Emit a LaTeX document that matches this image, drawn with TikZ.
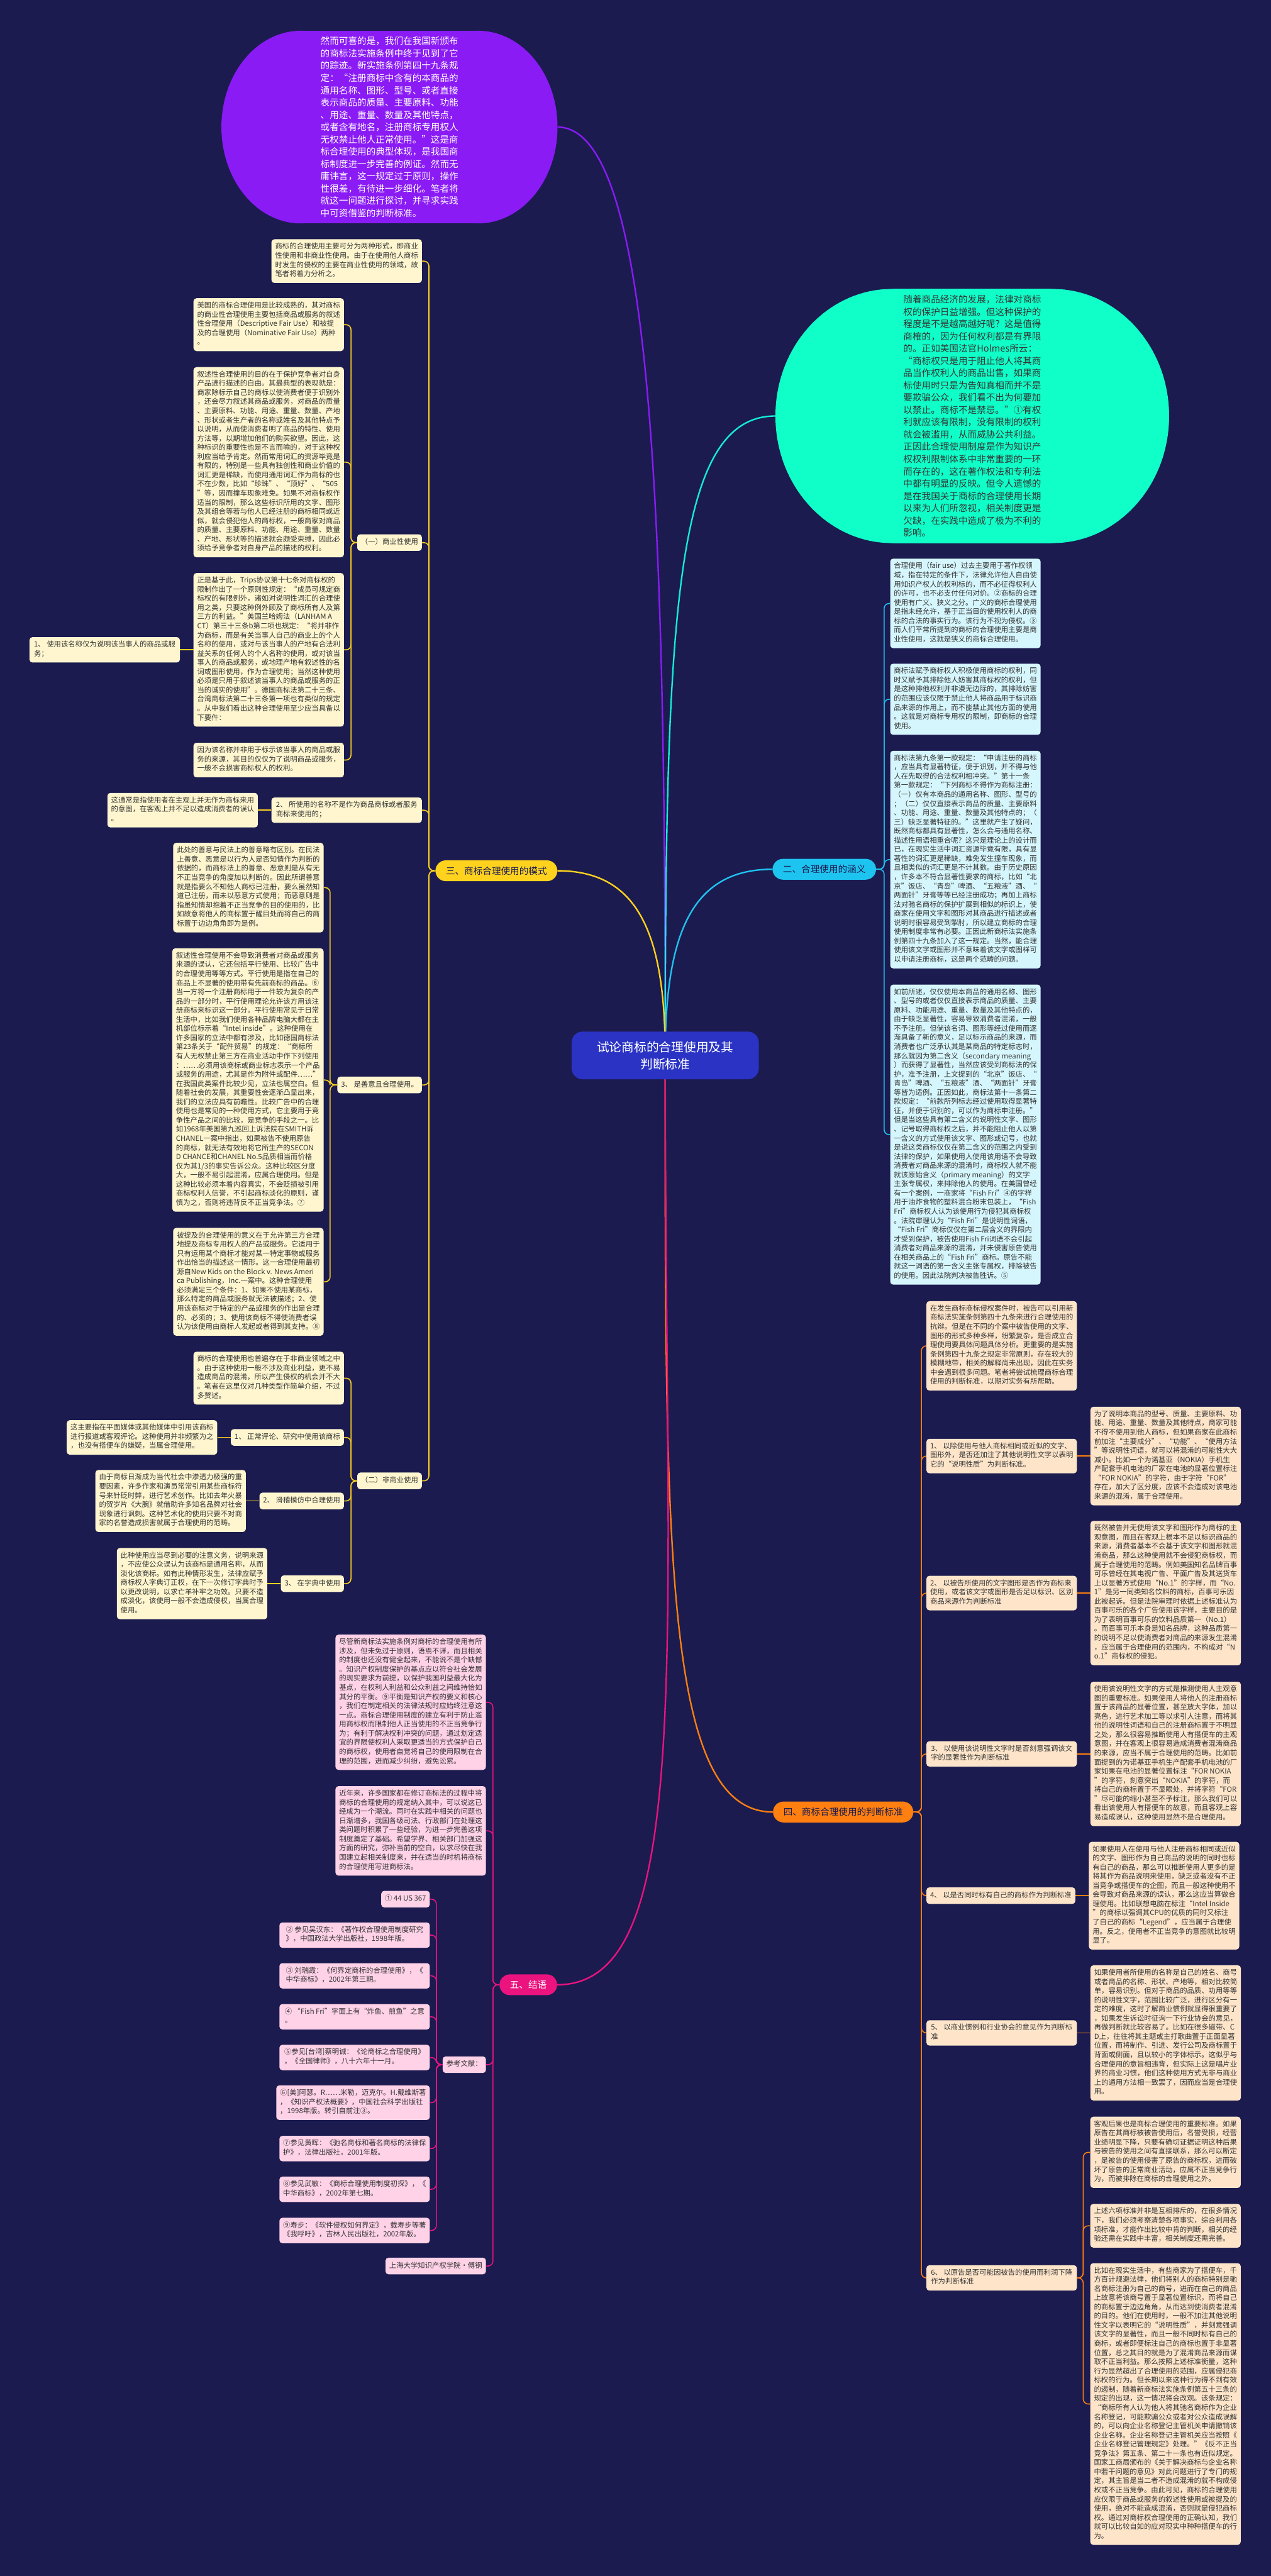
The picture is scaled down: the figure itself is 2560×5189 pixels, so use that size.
\documentclass[tikz,border=0pt]{standalone}
\usepackage{fontspec}
\setmainfont{Noto Sans CJK SC}
\usetikzlibrary{positioning, backgrounds}
\definecolor{navy}{HTML}{1B1B50}
\definecolor{ink}{HTML}{333333}
\definecolor{purp}{HTML}{8A1BF5}
\definecolor{aqua}{HTML}{10FFC8}
\definecolor{core}{HTML}{2A33C4}
\definecolor{cyanb}{HTML}{1EC4F0}
\definecolor{cyanl}{HTML}{D6F6FD}
\definecolor{yelb}{HTML}{FFD21E}
\definecolor{yell}{HTML}{FFF6CF}
\definecolor{orab}{HTML}{FF7F10}
\definecolor{oral}{HTML}{FEE5CA}
\definecolor{pinkb}{HTML}{EB137D}
\definecolor{pinkl}{HTML}{FFD2E7}
\newcommand{\boxfont}{\fontsize{14.4bp}{18.44bp}\selectfont}
\newcommand{\bigfont}{\fontsize{18.5bp}{24.75bp}\selectfont}

\begin{document}
\begin{tikzpicture}[x=1bp, y=-1bp,
    txt/.style={font=\boxfont, align=left, inner xsep=7.5bp, inner ysep=7.5bp,
      rounded corners=6bp, text=ink, execute at begin node=\strut, execute at end node=\strut},
    ybox/.style={txt, fill=yell},
    cbox/.style={txt, fill=cyanl},
    obox/.style={txt, fill=oral},
    pbox/.style={txt, fill=pinkl},
    wide/.style={minimum width=303bp},
    pill/.style={font=\fontsize{18.5bp}{22bp}\selectfont, inner xsep=21bp, inner ysep=0bp,
      minimum height=42bp, rounded corners=21bp, text=navy},
    blob/.style={font=\bigfont, align=left, inner sep=0bp},
    ylink/.style={draw=yelb, line width=2bp, rounded corners=10bp},
    clink/.style={draw=cyanb, line width=2bp, rounded corners=10bp},
    olink/.style={draw=orab, line width=2bp, rounded corners=10bp},
    plink/.style={draw=pinkb, line width=2bp, rounded corners=10bp},
    trunk/.style={line width=3bp}]
  \useasboundingbox (0,0) rectangle (2560,5189);

  % the two floating topics
  \fill[purp] (606,256) ellipse [x radius=160, y radius=194];
  \fill[purp] (963,256) ellipse [x radius=160, y radius=194];
  \fill[purp] (606,62) rectangle (963,450);
  \node[blob, text=white, minimum width=677bp, minimum height=388bp] (P) at (784.5,256) {%
    然而可喜的是，我们在我国新颁布\\的商标法实施条例中终于见到了它\\的踪迹。新实施条例第四十九条规\\定：“注册商标中含有的本商品的\\通用名称、图形、型号、或者直接\\表示商品的质量、主要原料、功能\\、用途、重量、数量及其他特点，\\或者含有地名，注册商标专用权人\\无权禁止他人正常使用。”这是商\\标合理使用的典型体现，是我国商\\标制度进一步完善的例证。然而无\\庸讳言，这一规定过于原则，操作\\性很差，有待进一步细化。笔者将\\就这一问题进行探讨，并寻求实践\\中可资借鉴的判断标准。};
  \fill[aqua] (1797,838) ellipse [x radius=235, y radius=256];
  \fill[aqua] (2120,838) ellipse [x radius=235, y radius=256];
  \fill[aqua] (1797,582) rectangle (2120,1094);
  \node[blob, text=ink, minimum width=793bp, minimum height=512bp] (T) at (1958.5,838) {%
    随着商品经济的发展，法律对商标\\权的保护日益增强。但这种保护的\\程度是不是越高越好呢？这是值得\\商榷的，因为任何权利都是有界限\\的。正如美国法官Holmes所云：\\“商标权只是用于阻止他人将其商\\品当作权利人的商品出售，如果商\\标使用时只是为告知真相而并不是\\要欺骗公众，我们看不出为何要加\\以禁止。商标不是禁忌。”①有权\\利就应该有限制，没有限制的权利\\就会被滥用，从而威胁公共利益。\\正因此合理使用制度是作为知识产\\权权利限制体系中非常重要的一环\\而存在的，这在著作权法和专利法\\中都有明显的反映。但令人遗憾的\\是在我国关于商标的合理使用长期\\以来为人们所忽视，相关制度更是\\欠缺，在实践中造成了极为不利的\\影响。};

  \node[fill=core, text=white, font=\fontsize{25bp}{34bp}\selectfont, align=center,
    minimum width=377bp, minimum height=96bp, rounded corners=22bp] (C) at (1340,2126)
    {试论商标的合理使用及其\\判断标准};

  % 二
  \node[pill, fill=cyanb, anchor=west] (B2) at (1556,1751) {二、合理使用的涵义};
  \node[cbox, wide, anchor=west] (D1) at (1793,1215.5) {合理使用（fair use）过去主要用于著作权领\\域，指在特定的条件下，法律允许他人自由使\\用知识产权人的权利标的，而不必征得权利人\\的许可，也不必支付任何对价。②商标的合理\\使用有广义、狭义之分。广义的商标合理使用\\是指未经允许，基于正当目的使用权利人的商\\标的合法的事实行为。该行为不视为侵权。③\\而人们平常所提到的商标的合理使用主要是商\\业性使用，这就是狭义的商标合理使用。};
  \node[cbox, wide, anchor=west] (D2) at (1793,1408.5) {商标法赋予商标权人积极使用商标的权利，同\\时又赋予其排除他人妨害其商标权的权利，但\\是这种排他权利并非漫无边际的，其排除妨害\\的范围应该仅限于禁止他人将商品用于标识商\\品来源的作用上，而不能禁止其他方面的使用\\。这就是对商标专用权的限制，即商标的合理\\使用。};
  \node[cbox, wide, anchor=west] (D3) at (1793,1731.5) {商标法第九条第一款规定：“申请注册的商标\\，应当具有显著特征，便于识别，并不得与他\\人在先取得的合法权利相冲突。”第十一条\\第一款规定：“下列商标不得作为商标注册：\\（一）仅有本商品的通用名称、图形、型号的\\；（二）仅仅直接表示商品的质量、主要原料\\、功能、用途、重量、数量及其他特点的；（\\三）缺乏显著特征的。”这里就产生了疑问，\\既然商标都具有显著性，怎么会与通用名称、\\描述性用语相重合呢？这只是理论上的设计而\\已，在现实生活中词汇资源毕竟有限，具有显\\著性的词汇更是稀缺，难免发生撞车现象，而\\且相类似的词汇更是不计其数。由于历史原因\\，许多本不符合显著性要求的商标，比如“北\\京”饭店、“青岛”啤酒、“五粮液”酒、“\\两面针”牙膏等等已经注册成功；再加上商标\\法对驰名商标的保护扩展到相似的标识上，使\\商家在使用文字和图形对其商品进行描述或者\\说明时很容易受到掣肘，所以建立商标的合理\\使用制度非常有必要。正因此新商标法实施条\\例第四十九条加入了这一规定。当然，能合理\\使用该文字或图形并不意味着该文字或图样可\\以申请注册商标，这是两个范畴的问题。};
  \node[cbox, wide, anchor=west] (D4) at (1793,2285.5) {如前所述，仅仅使用本商品的通用名称、图形\\、型号的或者仅仅直接表示商品的质量、主要\\原料、功能用途、重量、数量及其他特点的，\\由于缺乏显著性，容易导致消费者混淆，一般\\不予注册。但倘该名词、图形等经过使用而逐\\渐具备了新的意义，足以标示商品的来源，而\\消费者也广泛承认其是某商品的特定标志时，\\那么就因为第二含义（secondary meaning\\）而获得了显著性，当然应该受到商标法的保\\护，准予注册，上文提到的“北京”饭店、“\\青岛”啤酒、“五粮液”酒、“两面针”牙膏\\等皆为适例。正因如此，商标法第十一条第二\\款规定：“前款所列标志经过使用取得显著特\\征，并便于识别的，可以作为商标申注册。”\\但是当这些具有第二含义的说明性文字、图形\\、记号取得商标权之后，并不能阻止他人以第\\一含义的方式使用该文字、图形或记号，也就\\是说这类商标仅仅在第二含义的范围之内受到\\法律的保护，如果使用人使用该用语不会导致\\消费者对商品来源的混淆时，商标权人就不能\\就该原始含义（primary meaning）的文字\\主张专属权，来排除他人的使用。在美国曾经\\有一个案例，一商家将“Fish Fri”④的字样\\用于油炸食物的塑料混合粉末包装上，“Fish\\ Fri”商标权人认为该使用行为侵犯其商标权\\。法院审理认为“Fish Fri”是说明性词语，\\“Fish Fri”商标仅仅在第二层含义的界限内\\才受到保护，被告使用Fish Fri词语不会引起\\消费者对商品来源的混淆，并未侵害原告使用\\在相关商品上的“Fish Fri”商标。原告不能\\就这一词语的第一含义主张专属权，排除被告\\的使用。因此法院判决被告胜诉。⑤};
  \coordinate (B2j) at (1781,1751);
  \foreach \c in {D1,D2,D3,D4} \draw[clink] (B2.east) -- (B2j) |- (\c.west);

  % 三
  \node[pill, fill=yelb, anchor=west] (B3) at (877,1754) {三、商标合理使用的模式};
  \node[ybox, wide, anchor=east] (Y1) at (850,526) {商标的合理使用主要可分为两种形式，即商业\\性使用和非商业性使用。由于在使用他人商标\\时发生的侵权的主要在商业性使用的领域，故\\笔者将着力分析之。};
  \node[ybox, anchor=east] (L1) at (850,1093) {（一）商业性使用};
  \node[ybox, wide, anchor=east] (L2) at (850,1632) {2、 所使用的名称不是作为商品商标或者服务\\商标来使用的；};
  \node[ybox, anchor=east] (L3) at (850,2185.5) {3、 是善意且合理使用。};
  \node[ybox, anchor=east] (L4) at (850,2983) {（二）非商业使用};
  \coordinate (B3j) at (864,1754);
  \foreach \c in {Y1,L1,L2,L3,L4} \draw[ylink] (B3.west) -- (B3j) |- (\c.east);

  \node[ybox, wide, anchor=east] (A1) at (693,654) {美国的商标合理使用是比较成熟的，其对商标\\的商业性合理使用主要包括商品或服务的叙述\\性合理使用（Descriptive Fair Use）和被提\\及的合理使用（Nominative Fair Use）两种\\。};
  \node[ybox, wide, anchor=east] (A2) at (693,931) {叙述性合理使用的目的在于保护竞争者对自身\\产品进行描述的自由。其最典型的表现就是：\\商家除标示自己的商标以使消费者便于识别外\\，还会尽力叙述其商品或服务，对商品的质量\\、主要原料、功能、用途、重量、数量、产地\\、形状或者生产者的名称或姓名及其他特点予\\以说明，从而使消费者明了商品的特性、使用\\方法等，以期增加他们的购买欲望。因此，这\\种标识的重要性也是不言而喻的，对于这种权\\利应当给予肯定。然而常用词汇的资源毕竟是\\有限的，特别是一些具有独创性和商业价值的\\词汇更是稀缺，而使用通用词汇作为商标的也\\不在少数，比如“珍珠”、“顶好”、“505\\”等，因而撞车现象难免。如果不对商标权作\\适当的限制，那么这些标识所用的文字、图形\\及其组合等若与他人已经注册的商标相同或近\\似，就会侵犯他人的商标权，一般商家对商品\\的质量、主要原料、功能、用途、重量、数量\\、产地、形状等的描述就会颇受束缚，因此必\\须给予竞争者对自身产品的描述的权利。};
  \node[ybox, wide, anchor=east] (A3) at (693,1309) {正是基于此，Trips协议第十七条对商标权的\\限制作出了一个原则性规定：“成员可规定商\\标权的有限例外，诸如对说明性词汇的合理使\\用之类，只要这种例外顾及了商标所有人及第\\三方的利益。”美国兰哈姆法（LANHAM A\\CT）第三十三条b第二项也规定：“将并非作\\为商标，而是有关当事人自己的商业上的个人\\名称的使用，或对与该当事人的产地有合法利\\益关系的任何人的个人名称的使用，或对该当\\事人的商品或服务，或地理产地有叙述性的名\\词或图形使用，作为合理使用；当然这种使用\\必须是只用于叙述该当事人的商品或服务的正\\当的诚实的使用”。德国商标法第二十三条、\\台湾商标法第二十三条第一项也有类似的规定\\。从中我们看出这种合理使用至少应当具备以\\下要件：};
  \node[ybox, wide, anchor=east] (A4) at (693,1531) {因为该名称并非用于标示该当事人的商品或服\\务的来源，其目的仅仅为了说明商品或服务，\\一般不会损害商标权人的权利。};
  \coordinate (L1j) at (707,1093);
  \foreach \c in {A1,A2,A3,A4} \draw[ylink] (L1.west) -- (L1j) |- (\c.east);
  \node[ybox, wide, left=27bp of A3] (A3c) {1、 使用该名称仅为说明该当事人的商品或服\\务；};
  \draw[ylink] (A3.west) -- (A3c.east);
  \node[ybox, wide, left=27bp of L2] (L2c) {这通常是指使用者在主观上并无作为商标来用\\的意图，在客观上并不足以造成消费者的误认\\。};
  \draw[ylink] (L2.west) -- (L2c.east);

  \node[ybox, wide, anchor=east] (S1) at (652,1788) {此处的善意与民法上的善意略有区别。在民法\\上善意、恶意是以行为人是否知情作为判断的\\依据的，而商标法上的善意、恶意则是从有无\\不正当竞争的角度加以判断的。因此所谓善意\\就是指要么不知他人商标已注册，要么虽然知\\道已注册，而未以恶意方式使用；而恶意则是\\指虽知情却抱着不正当竞争的目的使用的，比\\如故意将他人的商标置于醒目处而将自己的商\\标置于边边角角即为是例。};
  \node[ybox, wide, anchor=east] (S2) at (652,2175.5) {叙述性合理使用不会导致消费者对商品或服务\\来源的误认，它还包括平行使用、比较广告中\\的合理使用等等方式。平行使用是指在自己的\\商品上不显著的使用带有先前商标的商品。⑥\\当一方将一个注册商标用于一件较为复杂的产\\品的一部分时，平行使用理论允许该方用该注\\册商标来标识这一部分。平行使用常见于日常\\生活中，比如我们使用各种品牌电脑大都在主\\机部位标示着“Intel inside”。这种使用在\\许多国家的立法中都有涉及，比如德国商标法\\第23条关于“配件贸易”的规定：“商标所\\有人无权禁止第三方在商业活动中作下列使用\\：……必须用该商标或商业标志表示一个产品\\或服务的用途，尤其是作为附件或配件……”\\在我国此类案件比较少见，立法也属空白。但\\随着社会的发展，其重要性会逐渐凸显出来，\\我们的立法应具有前瞻性。比较广告中的合理\\使用也是常见的一种使用方式，它主要用于竞\\争性产品之间的比较，是竞争的手段之一。比\\如1968年美国第九巡回上诉法院在SMITH诉\\CHANEL一案中指出，如果被告不使用原告\\的商标，就无法有效地将它所生产的SECON\\D CHANCE和CHANEL No.5品质相当而价格\\仅为其1/3的事实告诉公众。这种比较区分度\\大，一般不易引起混淆，应属合理使用。但是\\这种比较必须本着内容真实，不会贬损被引用\\商标权利人信誉，不引起商标淡化的原则，谨\\慎为之，否则将违背反不正当竞争法。⑦};
  \node[ybox, wide, anchor=east] (S3) at (652,2582) {被提及的合理使用的意义在于允许第三方合理\\地提及商标专用权人的产品或服务。它适用于\\只有运用某个商标才能对某一特定事物或服务\\作出恰当的描述这一情形。这一合理使用最初\\源自New Kids on the Block v. News Ameri\\ca Publishing，Inc.一案中。这种合理使用\\必须满足三个条件：1、如果不使用某商标，\\那么特定的商品或服务就无法被描述；2、使\\用该商标对于特定的产品或服务的作出是合理\\的、必须的；3、使用该商标不得使消费者误\\认为该使用由商标人发起或者得到其支持。⑧};
  \coordinate (L3j) at (665,2185.5);
  \foreach \c in {S1,S2,S3} \draw[ylink] (L3.west) -- (L3j) |- (\c.east);

  \node[ybox, wide, anchor=east] (U0) at (693,2776) {商标的合理使用也普遍存在于非商业领域之中\\。由于这种使用一般不涉及商业利益，更不易\\造成商品的混淆，所以产生侵权的机会并不大\\。笔者在这里仅对几种类型作简单介绍，不过\\多赘述。};
  \node[ybox, anchor=east] (N1) at (693,2895.5) {1、 正常评论、研究中使用该商标};
  \node[ybox, anchor=east] (N2) at (693,3023.5) {2、 滑稽模仿中合理使用};
  \node[ybox, anchor=east] (N3) at (693,3190) {3、 在字典中使用};
  \coordinate (L4j) at (707,2983);
  \foreach \c in {U0,N1,N2,N3} \draw[ylink] (L4.west) -- (L4j) |- (\c.east);
  \node[ybox, wide, left=27bp of N1] (N1c) {这主要指在平面媒体或其他媒体中引用该商标\\进行报道或客观评论。这种使用并非频繁为之\\，也没有搭便车的嫌疑，当属合理使用。};
  \node[ybox, wide, left=27bp of N2] (N2c) {由于商标日渐成为当代社会中渗透力极强的重\\要因素，许多作家和演员常常引用某些商标符\\号来针砭时弊，进行艺术创作。比如去年火暴\\的贺岁片《大腕》就借助许多知名品牌对社会\\现象进行讽刺。这种艺术化的使用只要不对商\\家的名誉造成损害就属于合理使用的范畴。};
  \node[ybox, wide, left=27bp of N3] (N3c) {此种使用应当尽到必要的注意义务，说明来源\\，不应使公众误认为该商标是通用名称，从而\\淡化该商标。如有此种情形发生，法律应赋予\\商标权人字典订正权，在下一次修订字典时予\\以更改说明，以求亡羊补牢之功效。只要不造\\成淡化，该使用一般不会造成侵权，当属合理\\使用。};
  \foreach \c in {N1,N2,N3} \draw[ylink] (\c.west) -- (\c c.east);

  % 四
  \node[pill, fill=orab, anchor=west] (B4) at (1557,3650) {四、商标合理使用的判断标准};
  \node[obox, wide, anchor=west] (R0) at (1866,2711) {在发生商标商标侵权案件时，被告可以引用新\\商标法实施条例第四十九条来进行合理使用的\\抗辩。但是在不同的个案中被告使用的文字、\\图形的形式多种多样，纷繁复杂，是否成立合\\理使用要具体问题具体分析。更重要的是实施\\条例第四十九条之规定非常原则，存在较大的\\模糊地带，相关的解释尚未出现，因此在实务\\中会遇到很多问题。笔者将尝试梳理商标合理\\使用的判断标准，以期对实务有所帮助。};
  \node[obox, wide, anchor=west] (R1) at (1866,2933) {1、 以除使用与他人商标相同或近似的文字、\\图形外，是否还加注了其他说明性文字以表明\\它的“说明性质”为判断标准。};
  \node[obox, wide, anchor=west] (R2) at (1866,3209) {2、 以被告所使用的文字图形是否作为商标来\\使用，或者该文字或图形是否足以标识、区别\\商品来源作为判断标准};
  \node[obox, wide, anchor=west] (R3) at (1866,3533) {3、 以使用该说明性文字时是否刻意强调该文\\字的显著性作为判断标准};
  \node[obox, anchor=west] (R4) at (1866,3818.5) {4、 以是否同时标有自己的商标作为判断标准};
  \node[obox, wide, anchor=west] (R5) at (1866,4095) {5、 以商业惯例和行业协会的意见作为判断标\\准};
  \node[obox, wide, anchor=west] (R6) at (1866,4588.5) {6、 以原告是否可能因被告的使用而利润下降\\作为判断标准};
  \coordinate (B4j) at (1856,3650);
  \foreach \c in {R0,R1,R2,R3,R4,R5,R6} \draw[olink] (B4.east) -- (B4j) |- (\c.west);
  \node[obox, wide, right=27bp of R1] (R1c) {为了说明本商品的型号、质量、主要原料、功\\能、用途、重量、数量及其他特点，商家可能\\不得不使用到他人商标，但如果商家在此商标\\前加注“主要成分”、“功能”、“使用方法\\”等说明性词语，就可以将混淆的可能性大大\\减小。比如一个为诺基亚（NOKIA）手机生\\产配套手机电池的厂家在电池的显著位置标注\\“FOR NOKIA”的字符，由于字符“FOR”\\存在，加大了区分度，应该不会造成对该电池\\来源的混淆，属于合理使用。};
  \node[obox, wide, right=27bp of R2] (R2c) {既然被告并无使用该文字和图形作为商标的主\\观意图，而且在客观上根本不足以标识商品的\\来源，消费者基本不会基于该文字和图形就混\\淆商品，那么这种使用就不会侵犯商标权，而\\属于合理使用的范畴。例如美国知名品牌百事\\可乐曾经在其电视广告、平面广告及其送货车\\上以显著方式使用“No.1”的字样，而“No.\\1”是另一同类知名饮料的商标，百事可乐因\\此被起诉。但是法院审理时依据上述标准认为\\百事可乐的各个广告使用该字样，主要目的是\\为了表明百事可乐的饮料品质第一（No.1）\\。而百事可乐本身是知名品牌，这种品质第一\\的说明不足以使消费者对商品的来源发生混淆\\，应当属于合理使用的范围内，不构成对“N\\o.1”商标权的侵犯。};
  \node[obox, wide, right=27bp of R3] (R3c) {使用该说明性文字的方式是推测使用人主观意\\图的重要标准。如果使用人将他人的注册商标\\置于该商品的显著位置，甚至放大字体，加以\\亮色，进行艺术加工等以求引人注意，而将其\\他的说明性词语和自己的注册商标置于不明显\\之处，那么很容易推断使用人有搭便车的主观\\意图，并在客观上很容易造成消费者混淆商品\\的来源，应当不属于合理使用的范畴。比如前\\面提到的为诺基亚手机生产配套手机电池的厂\\家如果在电池的显著位置标注“FOR NOKIA\\”的字符，刻意突出“NOKIA”的字符，而\\将自己的商标置于不显眼处，并将字符“FOR\\”尽可能的缩小甚至不予标注，那么我们可以\\看出该使用人有搭便车的故意，而且客观上容\\易造成误认，这种使用显然不是合理使用。};
  \node[obox, wide, right=27bp of R4] (R4c) {如果使用人在使用与他人注册商标相同或近似\\的文字、图形作为自己商品的说明的同时也标\\有自己的商品，那么可以推断使用人更多的是\\将其作为商品说明来使用，缺乏或者没有不正\\当竞争或搭便车的企图，而且一般这种使用不\\会导致对商品来源的误认，那么这应当算做合\\理使用。比如联想电脑在标注“Intel Inside\\”的商标以强调其CPU的优质的同时又标注\\了自己的商标“Legend”，应当属于合理使\\用。反之，使用者不正当竞争的意图就比较明\\显了。};
  \node[obox, wide, right=27bp of R5] (R5c) {如果使用者所使用的名称是自己的姓名、商号\\或者商品的名称、形状、产地等，相对比较简\\单，容易识别。但对于商品的品质、功用等等\\的说明性文字，范围比较广泛，进行区分有一\\定的难度，这时了解商业惯例就显得很重要了\\，如果发生诉讼时征询一下行业协会的意见，\\再做判断就比较容易了。比如在很多磁带、C\\D上，往往将其主题或主打歌曲置于正面显著\\位置，而将制作、引进、发行公司及商标置于\\背面或侧面，且以较小的字体标示。这似乎与\\合理使用的意旨相违背，但实际上这是唱片业\\界的商业习惯，他们这种使用方式无非与商业\\上的通用方法相一致罢了，因而应当是合理使\\用。};
  \foreach \c in {R1,R2,R3,R4,R5} \draw[olink] (\c.east) -- (\c c.west);
  \node[obox, wide, anchor=west] (G1) at (2196,4335.5) {客观后果也是商标合理使用的重要标准。如果\\原告在其商标被被告使用后，名誉受损，经营\\业绩明显下降，只要有确切证据证明这种后果\\与被告的使用之间有直接联系，那么可以断定\\，是被告的使用侵害了原告的商标权，进而破\\坏了原告的正常商业活动，应属不正当竞争行\\为，而被排除在商标的合理使用之外。};
  \node[obox, wide, anchor=west] (G2) at (2196,4483.5) {上述六项标准并非是互相排斥的，在很多情况\\下，我们必须考察清楚各项事实，综合利用各\\项标准，才能作出比较中肯的判断，相关的经\\验还需在实践中丰富，相关制度还需完善。};
  \node[obox, wide, anchor=west] (G3) at (2196,4842.5) {比如在现实生活中，有些商家为了搭便车，千\\方百计规避法律，他们将别人的商标特别是驰\\名商标注册为自己的商号，进而在自己的商品\\上故意将该商号置于显著位置标识，而将自己\\的商标置于边边角角，从而达到使消费者混淆\\的目的。他们在使用时，一般不加注其他说明\\性文字以表明它的“说明性质”，并刻意强调\\该文字的显著性，而且一般不同时标有自己的\\商标，或者即便标注自己的商标也置于非显著\\位置，总之其目的就是为了混淆商品来源而谋\\取不正当利益。那么按照上述标准衡量，这种\\行为显然超出了合理使用的范围，应属侵犯商\\标权的行为。但长期以来这种行为得不到有效\\的遏制，随着新商标法实施条例第五十三条的\\规定的出现，这一情况将会改观。该条规定：\\“商标所有人认为他人将其驰名商标作为企业\\名称登记，可能欺骗公众或者对公众造成误解\\的，可以向企业名称登记主管机关申请撤销该\\企业名称。企业名称登记主管机关应当按照《\\企业名称登记管理规定》处理。”《反不正当\\竞争法》第五条、第二十一条也有近似规定。\\国家工商局颁布的《关于解决商标与企业名称\\中若干问题的意见》对此问题进行了专门的规\\定，其主旨是当二者不造成混淆的就不构成侵\\权或不正当竞争。由此可见，商标的合理使用\\应仅限于商品或服务的叙述性使用或被提及的\\使用，绝对不能造成混淆，否则就是侵犯商标\\权。通过对商标权合理使用的正确认知，我们\\就可以比较自如的应对现实中种种搭便车的行\\为。};
  \coordinate (R6j) at (2182,4588.5);
  \foreach \c in {G1,G2,G3} \draw[olink] (R6.east) -- (R6j) |- (\c.west);

  % 五
  \node[pill, fill=pinkb, text=white, anchor=west] (B5) at (1006,3998) {五、结语};
  \node[pbox, wide, anchor=east] (E1) at (979,3429) {尽管新商标法实施条例对商标的合理使用有所\\涉及，但未免过于原则，语焉不详，而且相关\\的制度也还没有健全起来，不能说不是个缺憾\\。知识产权制度保护的基点应以符合社会发展\\的现实要求为前提，以保护我国利益最大化为\\基点，在权利人利益和公众利益之间维持恰如\\其分的平衡。⑨平衡是知识产权的要义和核心\\，我们在制定相关的法律法规时应始终注意这\\一点。商标合理使用制度的建立有利于防止滥\\用商标权而限制他人正当使用的不正当竞争行\\为；有利于解决权利冲突的问题，通过划定适\\宜的界限使权利人采取更适当的方式保护自己\\的商标权，使用者自觉将自己的使用限制在合\\理的范围，进而减少纠纷，避免讼累。};
  \node[pbox, wide, anchor=east] (E2) at (979,3688) {近年来，许多国家都在修订商标法的过程中将\\商标的合理使用的规定纳入其中，可以说这已\\经成为一个潮流。同时在实践中相关的问题也\\日渐增多，我国各级司法、行政部门在处理这\\类问题时积累了一些经验，为进一步完善这项\\制度奠定了基础。希望学界、相关部门加强这\\方面的研究，弥补当前的空白，以求尽快在我\\国建立起相关制度来，并在适当的时机将商标\\的合理使用写进商标法。};
  \node[pbox, anchor=east] (RF) at (979,4159) {参考文献：};
  \node[pbox, anchor=east] (SG) at (979,4564.5) {上海大学知识产权学院·傅钢};
  \coordinate (B5j) at (993,3998);
  \foreach \c in {E1,E2,RF,SG} \draw[plink] (B5.west) -- (B5j) |- (\c.east);
  \node[pbox, anchor=east] (F1) at (866,3825.5) {① 44 US 367};
  \node[pbox, wide, anchor=east] (F2) at (866,3898) {② 参见吴汉东：《著作权合理使用制度研究\\》，中国政法大学出版社，1998年版。};
  \node[pbox, wide, anchor=east] (F3) at (866,3980) {③ 刘瑞霞：《何界定商标的合理使用》，《\\中华商标》，2002年第三期。};
  \node[pbox, wide, anchor=east] (F4) at (866,4062.5) {④ “Fish Fri”字面上有“炸鱼、煎鱼”之意\\。};
  \node[pbox, wide, anchor=east] (F5) at (866,4144.5) {⑤参见[台湾]蔡明诚：《论商标之合理使用》\\，《全国律师》，八十六年十一月。};
  \node[pbox, wide, anchor=east] (F6) at (866,4235.5) {⑥[美]阿瑟。R……米勒，迈克尔。H.戴维斯著\\，《知识产权法概要》，中国社会科学出版社\\，1998年版。转引自前注③。};
  \node[pbox, wide, anchor=east] (F7) at (866,4328) {⑦参见黄晖：《驰名商标和著名商标的法律保\\护》，法律出版社，2001年版。};
  \node[pbox, wide, anchor=east] (F8) at (866,4410) {⑧参见武敏：《商标合理使用制度初探》，《\\中华商标》，2002年第七期。};
  \node[pbox, wide, anchor=east] (F9) at (866,4493) {⑨寿步：《软件侵权如何界定》，载寿步等著\\《我呼吁》，吉林人民出版社，2002年版。};
  \coordinate (RFj) at (879,4159);
  \foreach \c in {F1,F2,F3,F4,F5,F6,F7,F8,F9} \draw[plink] (RF.west) -- (RFj) |- (\c.east);

  % main branches, under the nodes
  \begin{scope}[on background layer]
    \fill[navy] (0,0) rectangle (2560,5189);
    \draw[trunk, purp] (P.east) .. controls +(190,0) and +(0,-1100) .. (C.center);
    \draw[trunk, aqua!70!cyanb] (T.west) .. controls +(-200,0) and +(0,-900) .. (C.center);
    \draw[trunk, cyanb] (B2.west) .. controls +(-160,0) and +(0,-250) .. (C.center);
    \draw[trunk, yelb] (B3.east) .. controls +(160,0) and +(0,-250) .. (C.center);
    \draw[trunk, orab] (B4.west) .. controls +(-220,0) and +(0,1000) .. (C.center);
    \draw[trunk, pinkb] (B5.east) .. controls +(280,0) and +(0,1200) .. (C.center);
  \end{scope}
\end{tikzpicture}
\end{document}
